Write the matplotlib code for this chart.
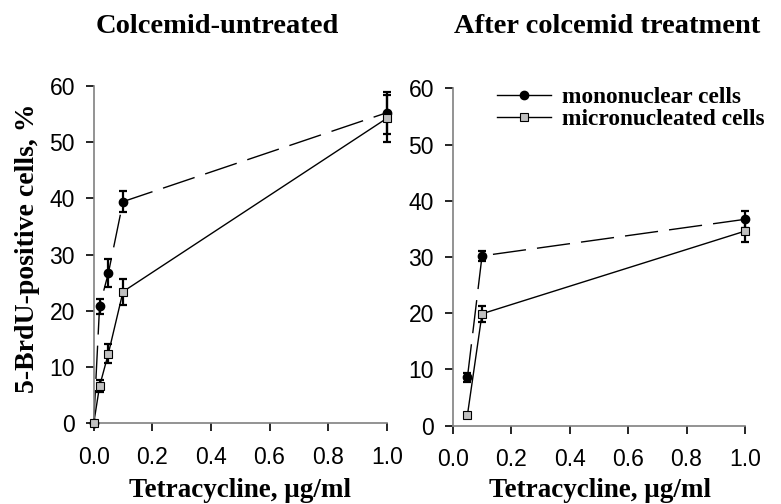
import numpy as np
import matplotlib
matplotlib.use('Agg')
import matplotlib.pyplot as plt
from matplotlib.lines import Line2D

# ── data ───────────────────────────────────────────────────────────────────
X_UNTR     = [0.0, 0.02, 0.05, 0.1, 1.0]
MONO_UNTR  = [0.0, 20.8, 26.7, 39.4, 55.2]
MONO_UNTR_E = [0.0, 1.3, 2.5, 1.9, 3.7]
MICRO_UNTR = [0.0, 6.6, 12.4, 23.4, 54.2]
MICRO_UNTR_E = [0.0, 1.1, 1.7, 2.3, 4.2]

X_COLC     = [0.05, 0.1, 1.0]
MONO_COLC  = [8.6, 30.2, 36.7]
MONO_COLC_E = [0.75, 0.9, 1.5]
MICRO_COLC = [1.9, 19.9, 34.6]
MICRO_COLC_E = [0.3, 1.4, 1.9]

TITLES = ['Colcemid-untreated', 'After colcemid treatment']
XLAB   = 'Tetracycline, \u03bcg/ml'
YLAB   = '5-BrdU-positive cells, %'
LABELS = ['mononuclear cells', 'micronucleated cells']

plt.rcParams['font.family'] = ['Liberation Sans', 'DejaVu Sans']
SERIF = dict(family=['Liberation Serif', 'DejaVu Serif'], weight='bold')
GREY_SQ = '#c0c0c0'
DASH = (0, (24, 8))

fig = plt.figure(figsize=(7.81, 5.04), dpi=100)
ax1 = fig.add_axes([0.1200, 0.1601, 0.3752, 0.6698])
ax2 = fig.add_axes([0.5798, 0.1554, 0.3741, 0.6694])

def draw(ax, x, mono, mono_e, micro, micro_e):
    ax.plot(x, mono, color='k', lw=1.0, ls=DASH, clip_on=False, zorder=2)
    ax.plot(x, micro, color='k', lw=1.0, clip_on=False, zorder=2)
    for y, e in [(mono, mono_e), (micro, micro_e)]:
        ax.errorbar(x, y, yerr=e, fmt='none', ecolor='k', elinewidth=1.6,
                    capsize=3.2, capthick=1.6, clip_on=False, zorder=3)
    ax.plot(x, mono, 'o', ms=6, mfc='k', mec='k', clip_on=False, zorder=4)
    ax.plot(x, micro, 's', ms=5.5, mfc=GREY_SQ, mec='k', mew=0.8,
            clip_on=False, zorder=5)
    ax.set_xlim(0, 1.0)
    ax.set_ylim(0, 60)
    ax.set_xticks(np.arange(0, 1.01, 0.2))
    ax.set_xticklabels([f'{v:.1f}' for v in np.arange(0, 1.01, 0.2)])
    ax.set_yticks(range(0, 61, 10))
    for s in ['top', 'right']:
        ax.spines[s].set_visible(False)
    for s in ['left', 'bottom']:
        ax.spines[s].set_color('#808080')
        ax.spines[s].set_linewidth(1.2)
    ax.tick_params(axis='both', direction='out', length=6, width=1.2,
                   color='k', labelsize=16.5, pad=7.5)
    ax.tick_params(axis='x', pad=10)

draw(ax1, X_UNTR, MONO_UNTR, MONO_UNTR_E, MICRO_UNTR, MICRO_UNTR_E)
draw(ax2, X_COLC, MONO_COLC, MONO_COLC_E, MICRO_COLC, MICRO_COLC_E)

handles = [Line2D([], [], color='k', lw=1.0, marker='o', ms=6, mfc='k', mec='k'),
           Line2D([], [], color='k', lw=1.0, marker='s', ms=5.5, mfc=GREY_SQ,
                  mec='k', mew=0.8)]
ax2.legend(handles, LABELS, loc='center left', bbox_to_anchor=(0.151, 0.9407),
           frameon=False, borderpad=0, borderaxespad=0, handlelength=2.3,
           handletextpad=0.5, labelspacing=0.02,
           prop=dict(family='Liberation Serif', weight='bold', size=16.8))

fig.text(217/781, 1 - 33/504, TITLES[0], ha='center', va='baseline',
         fontsize=20.5, **SERIF)
fig.text(607/781, 1 - 33/504, TITLES[1], ha='center', va='baseline',
         fontsize=20.5, **SERIF)
fig.text(240/781, 1 - 497/504, XLAB, ha='center', va='baseline',
         fontsize=19.5, **SERIF)
fig.text(600/781, 1 - 497/504, XLAB, ha='center', va='baseline',
         fontsize=19.5, **SERIF)
fig.text(28/781, 1 - 248/504, YLAB, ha='center', va='center', rotation=90,
         fontsize=20, **SERIF)

fig.savefig('out.png', dpi=100)
